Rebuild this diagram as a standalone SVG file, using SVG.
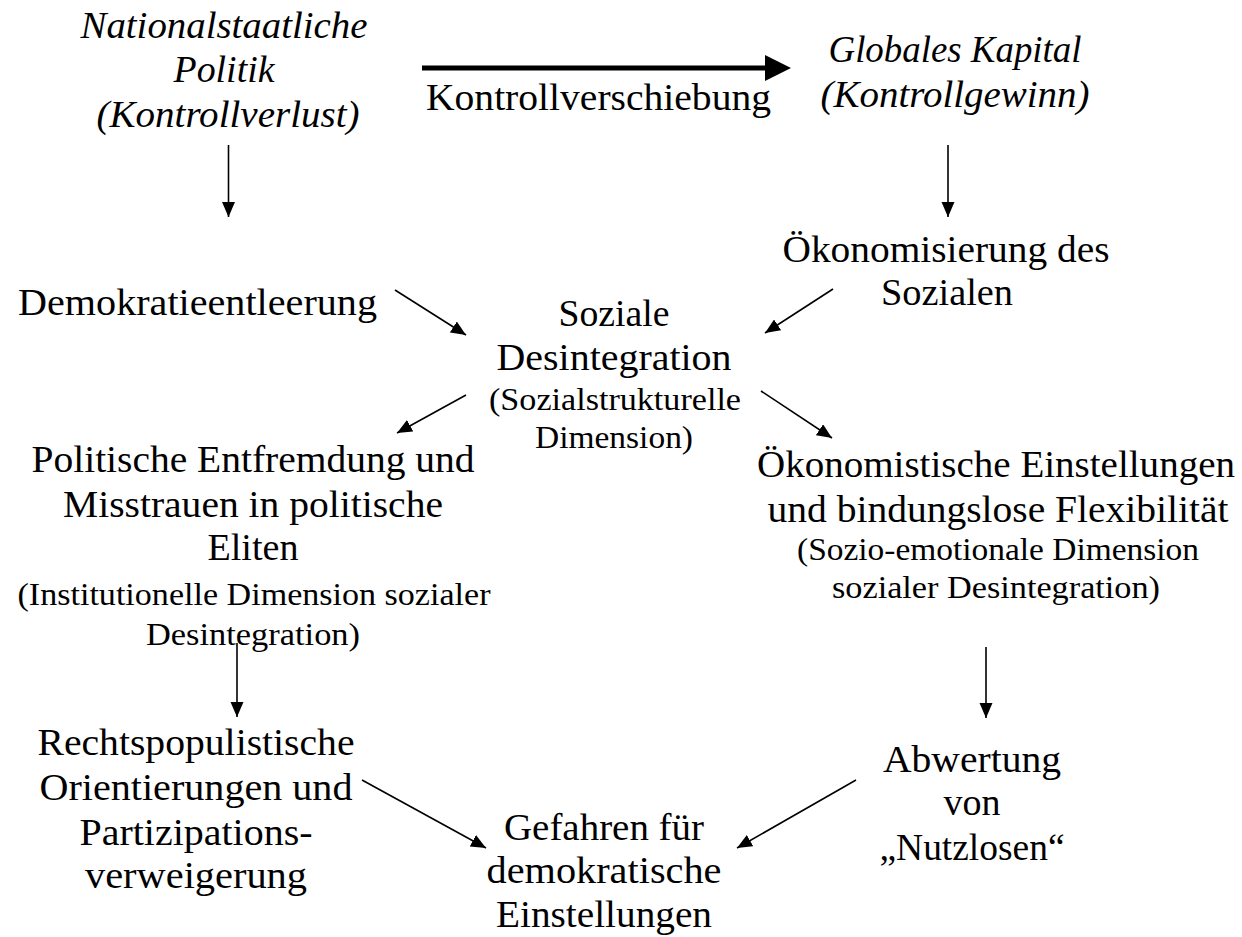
<svg xmlns="http://www.w3.org/2000/svg" width="1242" height="937" viewBox="0 0 1242 937">
<style>
text{font-family:"Liberation Serif","Times New Roman",serif;fill:#000;text-anchor:middle}
.m{font-size:37px}
.s{font-size:32px}
.i{font-style:italic}
.c{stroke:#000;stroke-width:1.6;fill:none}
</style>
<defs>
<marker id="ah" markerUnits="userSpaceOnUse" markerWidth="16" markerHeight="14" refX="15" refY="6.5" orient="auto">
<path d="M0,0 L15,6.5 L0,13 z" fill="#000"/>
</marker>
</defs>
<rect width="1242" height="937" fill="#fff"/>
<g id="connectors">
<line x1="422" y1="68" x2="768" y2="68" stroke="#000" stroke-width="5"/>
<polygon points="765,55 791,68 765,81" fill="#000"/>
<text class="m" x="598.5" y="110" textLength="345" lengthAdjust="spacingAndGlyphs">Kontrollverschiebung</text>
<line class="c" x1="228.5" y1="145" x2="228.5" y2="217" marker-end="url(#ah)"/>
<line class="c" x1="948" y1="145" x2="948" y2="217" marker-end="url(#ah)"/>
<line class="c" x1="395" y1="290" x2="466" y2="335" marker-end="url(#ah)"/>
<line class="c" x1="833" y1="289" x2="765" y2="333" marker-end="url(#ah)"/>
<line class="c" x1="466" y1="395" x2="397" y2="433" marker-end="url(#ah)"/>
<line class="c" x1="761" y1="391" x2="832" y2="438" marker-end="url(#ah)"/>
<line class="c" x1="237" y1="643" x2="237" y2="717" marker-end="url(#ah)"/>
<line class="c" x1="986" y1="647" x2="986" y2="718" marker-end="url(#ah)"/>
<line class="c" x1="362" y1="780" x2="486" y2="848" marker-end="url(#ah)"/>
<line class="c" x1="856" y1="780" x2="737" y2="848" marker-end="url(#ah)"/>
</g>
<g id="nationalstaatliche-politik">
<text class="m i" x="224" y="38" textLength="287" lengthAdjust="spacingAndGlyphs">Nationalstaatliche</text>
<text class="m i" x="224" y="82" textLength="101" lengthAdjust="spacingAndGlyphs">Politik</text>
<text class="m i" x="228" y="127" textLength="263" lengthAdjust="spacingAndGlyphs">(Kontrollverlust)</text>
</g>
<g id="globales-kapital">
<text class="m i" x="955" y="62" textLength="253" lengthAdjust="spacingAndGlyphs">Globales Kapital</text>
<text class="m i" x="955" y="107" textLength="269" lengthAdjust="spacingAndGlyphs">(Kontrollgewinn)</text>
</g>
<g id="demokratieentleerung">
<text class="m" x="197.5" y="315" textLength="359" lengthAdjust="spacingAndGlyphs">Demokratieentleerung</text>
</g>
<g id="oekonomisierung">
<text class="m" x="946" y="262" textLength="327" lengthAdjust="spacingAndGlyphs">Ökonomisierung des</text>
<text class="m" x="947" y="305" textLength="132" lengthAdjust="spacingAndGlyphs">Sozialen</text>
</g>
<g id="soziale-desintegration">
<text class="m" x="614" y="326" textLength="111" lengthAdjust="spacingAndGlyphs">Soziale</text>
<text class="m" x="614" y="370" textLength="235" lengthAdjust="spacingAndGlyphs">Desintegration</text>
<text class="s" x="615" y="410" textLength="252" lengthAdjust="spacingAndGlyphs">(Sozialstrukturelle</text>
<text class="s" x="614" y="448" textLength="158" lengthAdjust="spacingAndGlyphs">Dimension)</text>
</g>
<g id="politische-entfremdung">
<text class="m" x="253" y="472" textLength="443" lengthAdjust="spacingAndGlyphs">Politische Entfremdung und</text>
<text class="m" x="253" y="517" textLength="380" lengthAdjust="spacingAndGlyphs">Misstrauen in politische</text>
<text class="m" x="253" y="560" textLength="91" lengthAdjust="spacingAndGlyphs">Eliten</text>
<text class="s" x="254" y="605" textLength="473" lengthAdjust="spacingAndGlyphs">(Institutionelle Dimension sozialer</text>
<text class="s" x="253" y="645" textLength="214" lengthAdjust="spacingAndGlyphs">Desintegration)</text>
</g>
<g id="oekonomistische-einstellungen">
<text class="m" x="996" y="477" textLength="478" lengthAdjust="spacingAndGlyphs">Ökonomistische Einstellungen</text>
<text class="m" x="998" y="522" textLength="461" lengthAdjust="spacingAndGlyphs">und bindungslose Flexibilität</text>
<text class="s" x="998" y="560" textLength="402" lengthAdjust="spacingAndGlyphs">(Sozio-emotionale Dimension</text>
<text class="s" x="996" y="598" textLength="328" lengthAdjust="spacingAndGlyphs">sozialer Desintegration)</text>
</g>
<g id="rechtspopulistische-orientierungen">
<text class="m" x="196" y="755" textLength="317" lengthAdjust="spacingAndGlyphs">Rechtspopulistische</text>
<text class="m" x="196" y="800" textLength="313" lengthAdjust="spacingAndGlyphs">Orientierungen und</text>
<text class="m" x="196" y="845" textLength="233" lengthAdjust="spacingAndGlyphs">Partizipations-</text>
<text class="m" x="196" y="888" textLength="222" lengthAdjust="spacingAndGlyphs">verweigerung</text>
</g>
<g id="gefahren">
<text class="m" x="604" y="840" textLength="200" lengthAdjust="spacingAndGlyphs">Gefahren für</text>
<text class="m" x="604" y="883" textLength="235" lengthAdjust="spacingAndGlyphs">demokratische</text>
<text class="m" x="604" y="927" textLength="216" lengthAdjust="spacingAndGlyphs">Einstellungen</text>
</g>
<g id="abwertung">
<text class="m" x="972" y="772" textLength="178" lengthAdjust="spacingAndGlyphs">Abwertung</text>
<text class="m" x="972" y="815" textLength="57" lengthAdjust="spacingAndGlyphs">von</text>
<text class="m" x="972" y="860" textLength="185" lengthAdjust="spacingAndGlyphs">„Nutzlosen“</text>
</g>
</svg>
